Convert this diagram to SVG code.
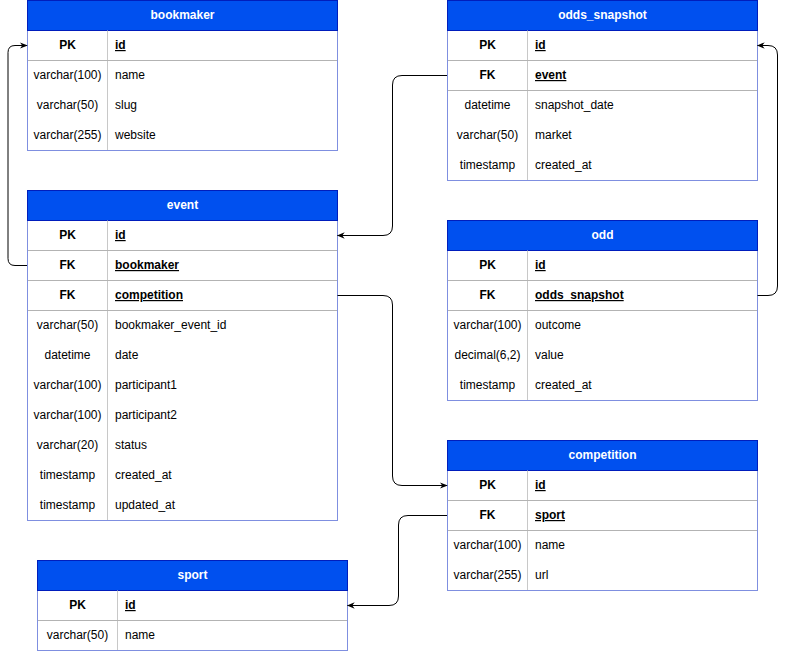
<svg xmlns="http://www.w3.org/2000/svg" width="786" height="651" viewBox="0 0 786 651">
<defs>
<style>
text{font-family:"Liberation Sans",Arial,sans-serif;font-size:12px;fill:#000}
.hd{fill:#0050EF;stroke:#001DBC;stroke-width:1}
.ht{fill:#fff;font-weight:bold;text-anchor:middle}
.box{fill:#fff;stroke:#7F8FE0;stroke-width:1}
.sep{stroke:#B3B3B3;stroke-width:1}
.vd{stroke:#C8C8C8;stroke-width:1}
.k{font-weight:bold;text-anchor:middle}
.kn{font-weight:bold;text-decoration:underline}
.t{text-anchor:middle}
.edge{fill:none;stroke:#000;stroke-width:1}
</style>
<marker id="arr" viewBox="0 0 10 10" refX="9" refY="5" markerWidth="8" markerHeight="8" markerUnits="userSpaceOnUse" orient="auto">
<path d="M0,1 L10,5 L0,9 L3,5 Z" fill="#000"/>
</marker>
</defs>
<rect width="786" height="651" fill="#fff"/>

<g id="bookmaker">
<rect class="box" x="27.5" y="0.5" width="310" height="150"/>
<rect class="hd" x="27.5" y="0.5" width="310" height="30"/>
<text class="ht" x="182.5" y="19">bookmaker</text>
<line class="vd" x1="107.5" y1="30.5" x2="107.5" y2="150"/>
<line class="sep" x1="28" y1="60.5" x2="337" y2="60.5"/>
<text class="k" x="67.5" y="49">PK</text><text class="kn" x="115" y="49">id</text>
<text class="t" x="67.5" y="79">varchar(100)</text><text x="115" y="79">name</text>
<text class="t" x="67.5" y="109">varchar(50)</text><text x="115" y="109">slug</text>
<text class="t" x="67.5" y="139">varchar(255)</text><text x="115" y="139">website</text>
</g>

<g id="odds_snapshot">
<rect class="box" x="447.5" y="0.5" width="310" height="180"/>
<rect class="hd" x="447.5" y="0.5" width="310" height="30"/>
<text class="ht" x="602.5" y="19">odds_snapshot</text>
<line class="vd" x1="527.5" y1="30.5" x2="527.5" y2="180"/>
<line class="sep" x1="448" y1="60.5" x2="757" y2="60.5"/>
<line class="sep" x1="448" y1="90.5" x2="757" y2="90.5"/>
<text class="k" x="487.5" y="49">PK</text><text class="kn" x="535" y="49">id</text>
<text class="k" x="487.5" y="79">FK</text><text class="kn" x="535" y="79">event</text>
<text class="t" x="487.5" y="109">datetime</text><text x="535" y="109">snapshot_date</text>
<text class="t" x="487.5" y="139">varchar(50)</text><text x="535" y="139">market</text>
<text class="t" x="487.5" y="169">timestamp</text><text x="535" y="169">created_at</text>
</g>

<g id="event">
<rect class="box" x="27.5" y="190.5" width="310" height="330"/>
<rect class="hd" x="27.5" y="190.5" width="310" height="30"/>
<text class="ht" x="182.5" y="209">event</text>
<line class="vd" x1="107.5" y1="220.5" x2="107.5" y2="520"/>
<line class="sep" x1="28" y1="250.5" x2="337" y2="250.5"/>
<line class="sep" x1="28" y1="280.5" x2="337" y2="280.5"/>
<line class="sep" x1="28" y1="310.5" x2="337" y2="310.5"/>
<text class="k" x="67.5" y="239">PK</text><text class="kn" x="115" y="239">id</text>
<text class="k" x="67.5" y="269">FK</text><text class="kn" x="115" y="269">bookmaker</text>
<text class="k" x="67.5" y="299">FK</text><text class="kn" x="115" y="299">competition</text>
<text class="t" x="67.5" y="329">varchar(50)</text><text x="115" y="329">bookmaker_event_id</text>
<text class="t" x="67.5" y="359">datetime</text><text x="115" y="359">date</text>
<text class="t" x="67.5" y="389">varchar(100)</text><text x="115" y="389">participant1</text>
<text class="t" x="67.5" y="419">varchar(100)</text><text x="115" y="419">participant2</text>
<text class="t" x="67.5" y="449">varchar(20)</text><text x="115" y="449">status</text>
<text class="t" x="67.5" y="479">timestamp</text><text x="115" y="479">created_at</text>
<text class="t" x="67.5" y="509">timestamp</text><text x="115" y="509">updated_at</text>
</g>

<g id="odd">
<rect class="box" x="447.5" y="220.5" width="310" height="180"/>
<rect class="hd" x="447.5" y="220.5" width="310" height="30"/>
<text class="ht" x="602.5" y="239">odd</text>
<line class="vd" x1="527.5" y1="250.5" x2="527.5" y2="400"/>
<line class="sep" x1="448" y1="280.5" x2="757" y2="280.5"/>
<line class="sep" x1="448" y1="310.5" x2="757" y2="310.5"/>
<text class="k" x="487.5" y="269">PK</text><text class="kn" x="535" y="269">id</text>
<text class="k" x="487.5" y="299">FK</text><text class="kn" x="535" y="299">odds_snapshot</text>
<text class="t" x="487.5" y="329">varchar(100)</text><text x="535" y="329">outcome</text>
<text class="t" x="487.5" y="359">decimal(6,2)</text><text x="535" y="359">value</text>
<text class="t" x="487.5" y="389">timestamp</text><text x="535" y="389">created_at</text>
</g>

<g id="competition">
<rect class="box" x="447.5" y="440.5" width="310" height="150"/>
<rect class="hd" x="447.5" y="440.5" width="310" height="30"/>
<text class="ht" x="602.5" y="459">competition</text>
<line class="vd" x1="527.5" y1="470.5" x2="527.5" y2="590"/>
<line class="sep" x1="448" y1="500.5" x2="757" y2="500.5"/>
<line class="sep" x1="448" y1="530.5" x2="757" y2="530.5"/>
<text class="k" x="487.5" y="489">PK</text><text class="kn" x="535" y="489">id</text>
<text class="k" x="487.5" y="519">FK</text><text class="kn" x="535" y="519">sport</text>
<text class="t" x="487.5" y="549">varchar(100)</text><text x="535" y="549">name</text>
<text class="t" x="487.5" y="579">varchar(255)</text><text x="535" y="579">url</text>
</g>

<g id="sport">
<rect class="box" x="37.5" y="560.5" width="310" height="90"/>
<rect class="hd" x="37.5" y="560.5" width="310" height="30"/>
<text class="ht" x="192.5" y="579">sport</text>
<line class="vd" x1="117.5" y1="590.5" x2="117.5" y2="650"/>
<line class="sep" x1="38" y1="620.5" x2="347" y2="620.5"/>
<text class="k" x="77.5" y="609">PK</text><text class="kn" x="125" y="609">id</text>
<text class="t" x="77.5" y="639">varchar(50)</text><text x="125" y="639">name</text>
</g>

<g id="connectors">
<path class="edge" marker-end="url(#arr)" d="M27,265.5 H15 Q8,265.5 8,258.5 V52.5 Q8,45.5 15,45.5 H27"/>
<path class="edge" marker-end="url(#arr)" d="M447,75.5 H402 Q392.5,75.5 392.5,85 V226 Q392.5,235.5 383,235.5 H337.5"/>
<path class="edge" marker-end="url(#arr)" d="M757.5,295.5 H768 Q777.5,295.5 777.5,286 V55 Q777.5,45.5 768,45.5 H757.5"/>
<path class="edge" marker-end="url(#arr)" d="M337.5,295.5 H383 Q392.5,295.5 392.5,305 V476 Q392.5,485.5 402,485.5 H447"/>
<path class="edge" marker-end="url(#arr)" d="M447,515.5 H408 Q398.5,515.5 398.5,525 V596 Q398.5,605.5 389,605.5 H347.5"/>
</g>
</svg>
